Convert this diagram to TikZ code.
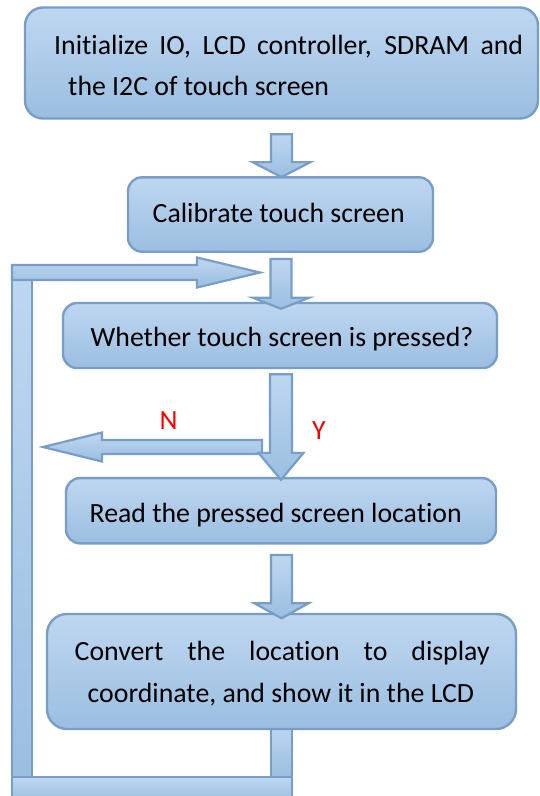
\documentclass[tikz,border=0pt]{standalone}
\usepackage{fontspec}
\setmainfont{Carlito}[Ligatures=NoCommon]
\usetikzlibrary{calc}
\definecolor{bd}{RGB}{120,158,200}
\definecolor{ftop}{RGB}{190,215,240}
\definecolor{fbot}{RGB}{155,190,225}
\definecolor{lblred}{RGB}{255,0,0}
\tikzset{
  box/.style={draw=bd, line width=2.4pt, top color=ftop, bottom color=fbot, rounded corners=14pt, inner sep=0pt},
  blk/.style={draw=bd, line width=2.2pt, top color=ftop, bottom color=fbot, line join=miter},
  txt/.style={font=\fontsize{27.8}{33}\selectfont, inner sep=0pt, anchor=base west},
  yn/.style={font=\fontsize{27.8}{33}\selectfont, text=lblred, inner sep=0pt},
}
% #1 top point, #2 tip point, #3 head length, #4 shaft half width, #5 head half width
\newcommand\blockdown[5]{%
  \draw[blk] let \p1=(#1), \p2=(#2) in
    (\x2-#4pt,\y1) -- (\x2+#4pt,\y1) -- (\x2+#4pt,\y2+#3pt) -- (\x2+#5pt,\y2+#3pt)
    -- (\x2,\y2) -- (\x2-#5pt,\y2+#3pt) -- (\x2-#4pt,\y2+#3pt) -- cycle;}
% horizontal arrow: #1 tail point, #2 tip point, #3 head length (signed toward tail), #4 shaft half, #5 head half
\newcommand\blockhoriz[5]{%
  \draw[blk] let \p1=(#1), \p2=(#2) in
    (\x1,\y2+#4pt) -- (\x2+#3pt,\y2+#4pt) -- (\x2+#3pt,\y2+#5pt) -- (\x2,\y2)
    -- (\x2+#3pt,\y2-#5pt) -- (\x2+#3pt,\y2-#4pt) -- (\x1,\y2-#4pt) -- cycle;}
\begin{document}
\begin{tikzpicture}[x=1pt,y=1pt]
\useasboundingbox (0,0) rectangle (540,-796);

% loop bars (behind)
\draw[blk] (12,-279) rectangle (32,-777);
\draw[blk] (271,-724) rectangle (292,-777);
\draw[blk] (12,-777) rectangle (292,-802);

% boxes
\node[box, minimum width=513pt, minimum height=111pt, rounded corners=18pt] (b1) at (281.5,-63) {};
\node[box, minimum width=305pt, minimum height=74.4pt] (b2) at (280.5,-214.5) {};
\node[box, minimum width=434pt, minimum height=65pt] (b3) at (280,-335.5) {};
\node[box, minimum width=430pt, minimum height=65.3pt] (b4) at (281,-510.7) {};
\node[box, minimum width=469pt, minimum height=115pt, rounded corners=20pt] (b5) at (281.5,-671.5) {};

% loop entry arrow
\coordinate (loopstart) at (12,-272.5);
\coordinate (looptip) at (260,-272.5);
\blockhoriz{loopstart}{looptip}{-63}{7.5}{15}

% connectors
\coordinate (a1top) at ($(b1.south)+(0,-14.5)$);
\coordinate (a1tip) at ($(b2.north)+(1,-1)$);
\blockdown{a1top}{a1tip}{15}{10.5}{29}
\coordinate (a2top) at ($(b2.south)+(0,-6)$);
\coordinate (a2tip) at ($(b3.north)+(1,-7)$);
\blockdown{a2top}{a2tip}{11}{10.5}{28}
\coordinate (ntail) at (262,-447);
\coordinate (ntip) at (43,-447);
\blockhoriz{ntail}{ntip}{59}{7}{14.5}
\coordinate (a3top) at ($(b3.south)+(0,-5)$);
\coordinate (a3tip) at ($(b4.north)+(0,-3)$);
\blockdown{a3top}{a3tip}{27}{11}{22.5}
\coordinate (a4top) at ($(b4.south)+(0,-10.5)$);
\coordinate (a4tip) at ($(b5.north)+(0,-5.5)$);
\blockdown{a4top}{a4tip}{15}{10.5}{27}

% texts
\node[txt] (t1a) at (54,-54.3) {\makebox[469pt][s]{Initialize IO, LCD controller, SDRAM and}};
\node[txt] (t1b) at (68,-95) {the I2C of touch screen};
\node[txt] (t2) at (152.5,-222.8) {Calibrate touch screen};
\node[txt] (t3) at (90.5,-346.7) {Whether touch screen is pressed?};
\node[txt] (t4) at (89.5,-522) {Read the pressed screen location};
\node[txt] (t5a) at (74.5,-660) {\makebox[415pt][s]{Convert the location to display}};
\node[txt] (t5b) at (87.5,-702) {coordinate, and show it in the LCD};
\node[yn] (lblN) at (168.7,-421) {N};
\node[yn] (lblY) at (319,-430.5) {Y};
\end{tikzpicture}
\end{document}
